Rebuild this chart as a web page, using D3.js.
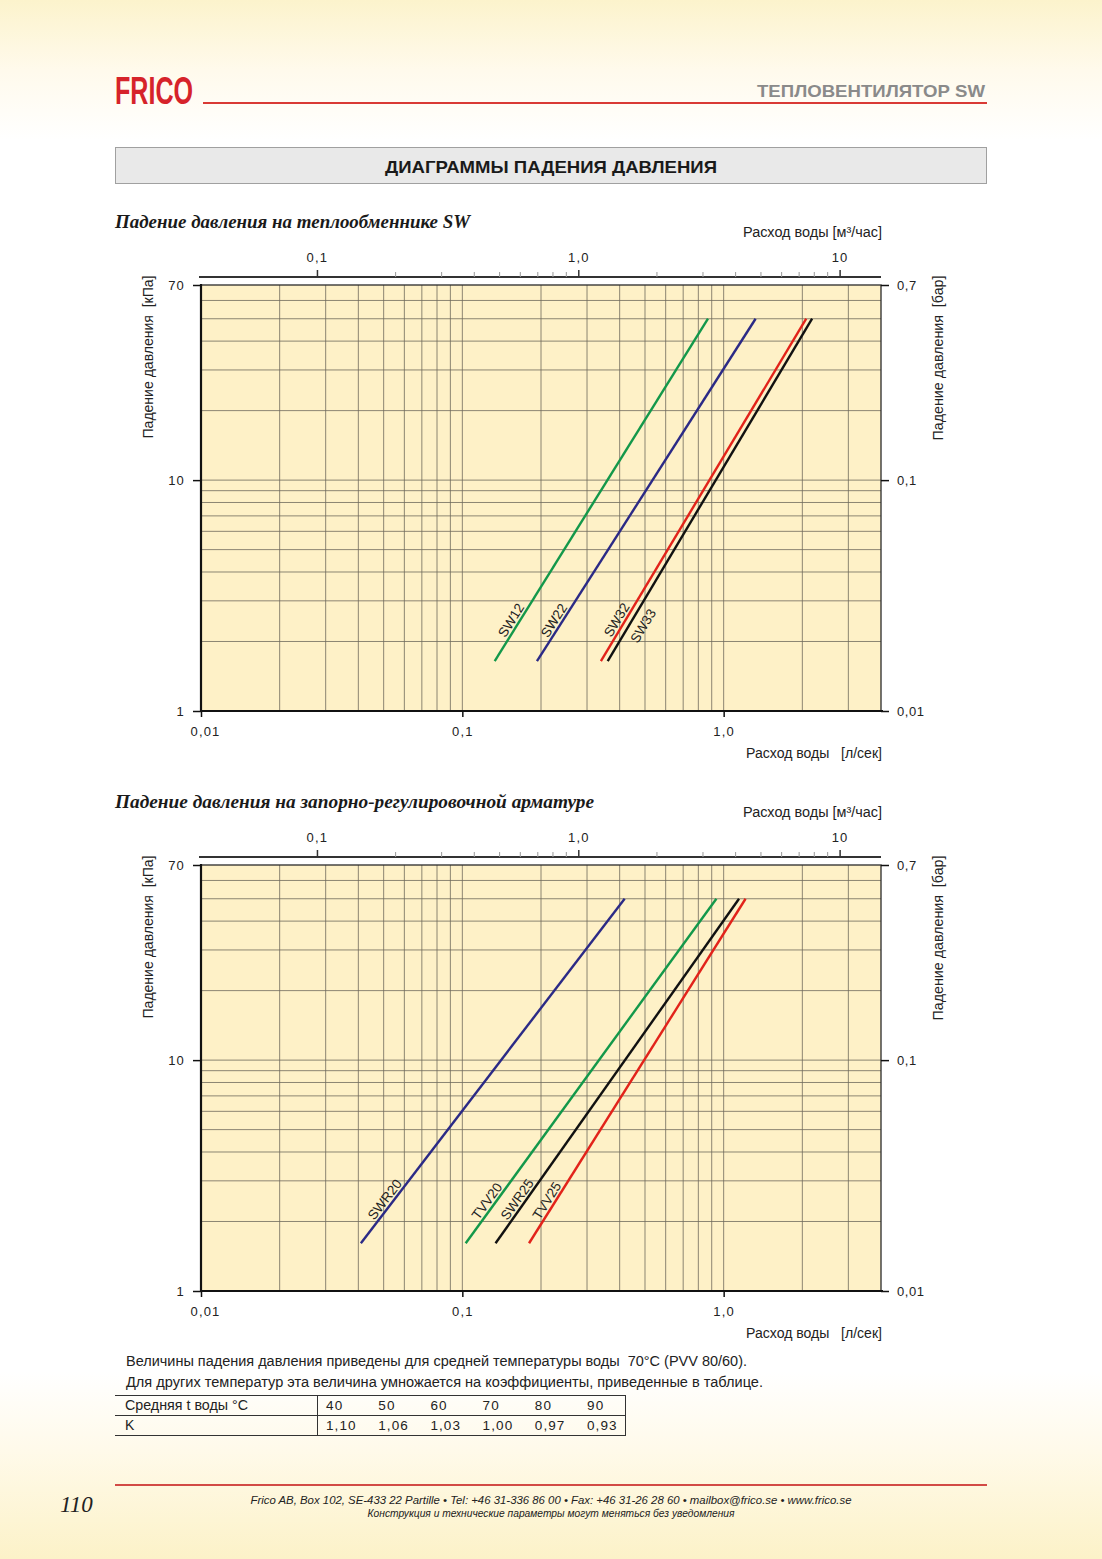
<!DOCTYPE html>
<html><head><meta charset="utf-8">
<script src="https://cdn.jsdelivr.net/npm/d3@7/dist/d3.min.js"></script>
<style>
html,body{margin:0;padding:0;background:#fff;}
svg{display:block;}
</style></head>
<body>
<script>
// ---------- DATA ----------
const chart1Title = "Падение давления на теплообменнике SW";
const chart1Series = ["SW12", "SW22", "SW32", "SW33"];
const chart1FlowStart = [0.133, 0.193, 0.339, 0.360];   // л/сек at lowest pressure
const chart1FlowEnd   = [0.871, 1.325, 2.07, 2.18];     // л/сек at highest pressure
const chart1PressStart = [1.645, 1.645, 1.645, 1.645];  // кПа
const chart1PressEnd   = [50, 50, 50, 50];              // кПа

const chart2Title = "Падение давления на запорно-регулировочной арматуре";
const chart2Series = ["SWR20", "TVV20", "SWR25", "TVV25"];
const chart2FlowStart = [0.0409, 0.103, 0.134, 0.180];
const chart2FlowEnd   = [0.418, 0.938, 1.145, 1.213];
const chart2PressStart = [1.61, 1.61, 1.61, 1.61];
const chart2PressEnd   = [50, 50, 50, 50];

const flowTicksLs = [0.01, 0.1, 1.0];
const flowTickLabelsLs = ["0,01", "0,1", "1,0"];
const flowGridLs = [0.01,0.02,0.03,0.04,0.05,0.06,0.07,0.08,0.09,0.1,0.2,0.3,0.4,0.5,0.6,0.7,0.8,0.9,1,2,3];
const flowTicksM3h = [0.1, 1, 10];
const flowTickLabelsM3h = ["0,1", "1,0", "10"];
const flowMinorM3h = [0.2,0.3,0.4,0.5,0.6,0.7,0.8,0.9,2,3,4,5,6,7,8,9];
const pressTicksKpa = [1, 10, 70];
const pressTickLabelsKpa = ["1", "10", "70"];
const pressTickLabelsBar = ["0,01", "0,1", "0,7"];
const pressGridKpa = [2,3,4,5,6,7,8,9,10,20,30,40,50,60];

const tempValues = [40, 50, 60, 70, 80, 90];
const kValues = [1.10, 1.06, 1.03, 1.00, 0.97, 0.93];

// ---------- STYLE / LAYOUT ----------
const W = 1102, H = 1559;
const seriesColors1 = ["#13984a", "#2b2a86", "#e2231a", "#111111"];
const seriesColors2 = ["#2b2a86", "#13984a", "#111111", "#e2231a"];
const labelPlace1 = [{a:25,p:3},{a:25,p:3},{a:25,p:3},{a:30,p:-17}];
const labelPlace2 = [{a:26,p:3},{a:26,p:3},{a:25,p:3},{a:25,p:3}];
const sans = "'Liberation Sans', Arial, Helvetica, sans-serif";
const serif = "'Liberation Serif', 'Times New Roman', serif";
const fmtComma = v => d3.format(".2f")(v).replace(".", ",");

const svg = d3.select("body").append("svg").attr("width", W).attr("height", H);
const defs = svg.append("defs");
const bg = defs.append("linearGradient").attr("id","bg").attr("x1",0).attr("y1",0).attr("x2",0).attr("y2",1);
[[0,"#fcf3cc"],[0.045,"#fffaec"],[0.09,"#ffffff"],[0.88,"#ffffff"],[0.93,"#fffaea"],[1,"#fcf2c8"]]
  .forEach(([o,c]) => bg.append("stop").attr("offset",o).attr("stop-color",c));
svg.append("rect").attr("width",W).attr("height",H).attr("fill","url(#bg)");

// ---------- HEADER ----------
svg.append("text").attr("x",115).attr("y",104).attr("font-family","'Liberation Sans Narrow', 'Liberation Sans', sans-serif")
  .attr("font-weight","bold").attr("font-size",38).attr("fill","#d6232a")
  .attr("textLength",78).attr("lengthAdjust","spacingAndGlyphs").text("FRICO");
svg.append("line").attr("x1",203).attr("x2",987).attr("y1",103).attr("y2",103)
  .attr("stroke","#d93a35").attr("stroke-width",2);
svg.append("text").attr("x",985).attr("y",97).attr("text-anchor","end").attr("font-family",sans)
  .attr("font-weight","bold").attr("font-size",17).attr("fill","#8a8a8a")
  .attr("textLength",228).attr("lengthAdjust","spacingAndGlyphs").text("ТЕПЛОВЕНТИЛЯТОР SW");

svg.append("rect").attr("x",115.5).attr("y",147.5).attr("width",871).attr("height",36)
  .attr("fill","#e9e9e9").attr("stroke","#a0a0a0").attr("stroke-width",1);
svg.append("text").attr("x",551).attr("y",173).attr("text-anchor","middle").attr("font-family",sans)
  .attr("font-weight","bold").attr("font-size",17).attr("fill","#1a1a1a")
  .attr("textLength",332).attr("lengthAdjust","spacingAndGlyphs").text("ДИАГРАММЫ ПАДЕНИЯ ДАВЛЕНИЯ");

// ---------- CHART ----------
function drawChart(dy, title, titleLen, names, fStart, fEnd, pStart, pEnd, colors, place) {
  const g = svg.append("g").attr("transform", `translate(0,${dy})`);
  const L = 201, R = 881, T = 285, B = 711;
  const x = d3.scaleLog().domain([0.01, 4]).range([L, R]);
  const xTop = d3.scaleLog().domain([0.01*3.6, 4*3.6]).range([L, R]);
  const y = d3.scaleLog().domain([1, 70]).range([B, T]);

  g.append("text").attr("x",115).attr("y",228).attr("font-family",serif).attr("font-style","italic")
    .attr("font-weight","bold").attr("font-size",18).attr("fill","#1a1a1a")
    .attr("textLength",titleLen).attr("lengthAdjust","spacingAndGlyphs").text(title);

  g.append("text").attr("x",882).attr("y",237).attr("text-anchor","end").attr("font-family",sans)
    .attr("font-size",14).attr("fill","#222").attr("textLength",139).attr("lengthAdjust","spacingAndGlyphs")
    .text("Расход воды [м³/час]");

  // plot background
  g.append("rect").attr("x",L).attr("y",T).attr("width",R-L).attr("height",B-T).attr("fill","#fef1c7");

  // grid
  g.append("g").selectAll("line").data(flowGridLs).join("line")
    .attr("x1",d=>x(d)).attr("x2",d=>x(d)).attr("y1",T).attr("y2",B)
    .attr("stroke","#6f6a5c").attr("stroke-width",0.8);
  g.append("g").selectAll("line").data(pressGridKpa).join("line")
    .attr("y1",d=>y(d)).attr("y2",d=>y(d)).attr("x1",L).attr("x2",R)
    .attr("stroke","#6f6a5c").attr("stroke-width",0.8);

  // frame
  g.append("rect").attr("x",L).attr("y",T).attr("width",R-L).attr("height",B-T)
    .attr("fill","none").attr("stroke","#2a2a2a").attr("stroke-width",1.3);
  g.append("line").attr("x1",L).attr("x2",L).attr("y1",T-1).attr("y2",B+1).attr("stroke","#111").attr("stroke-width",2.2);
  g.append("line").attr("x1",L-1).attr("x2",R+2).attr("y1",B).attr("y2",B).attr("stroke","#111").attr("stroke-width",2.2);

  // bottom axis (л/сек)
  const axB = d3.axisBottom(x).tickValues(flowTicksLs).tickSize(6)
    .tickFormat((d,i)=>flowTickLabelsLs[i]);
  const gB = g.append("g").attr("transform",`translate(0,${B})`).call(axB);
  gB.select(".domain").remove();
  gB.selectAll("line").attr("stroke","#111").attr("stroke-width",1.5);
  gB.selectAll("text").attr("dy","1.25em").attr("font-family",sans).attr("font-size",13)
    .attr("letter-spacing",1.2).attr("fill","#222");
  gB.selectAll(".tick").filter(d=>d===0.01).select("text").attr("dx",4);

  g.append("text").attr("x",882).attr("y",758).attr("text-anchor","end").attr("font-family",sans)
    .attr("font-size",14).attr("fill","#222").attr("xml:space","preserve")
    .attr("textLength",136).attr("lengthAdjust","spacingAndGlyphs").text("Расход воды   [л/сек]");

  // top axis (м³/час)
  const TA = 277;
  g.append("line").attr("x1",L-2).attr("x2",R).attr("y1",TA).attr("y2",TA).attr("stroke","#333").attr("stroke-width",2);
  g.append("g").selectAll("line").data(flowMinorM3h).join("line")
    .attr("x1",d=>xTop(d)).attr("x2",d=>xTop(d)).attr("y1",TA).attr("y2",TA-5)
    .attr("stroke","#999").attr("stroke-width",1);
  const axT = d3.axisTop(xTop).tickValues(flowTicksM3h).tickSize(7)
    .tickFormat((d,i)=>flowTickLabelsM3h[i]);
  const gT = g.append("g").attr("transform",`translate(0,${TA})`).call(axT);
  gT.select(".domain").remove();
  gT.selectAll("line").attr("stroke","#333").attr("stroke-width",1.5);
  gT.selectAll("text").attr("dy","-0.35em").attr("font-family",sans).attr("font-size",13)
    .attr("letter-spacing",1.2).attr("fill","#222");

  // left axis (кПа)
  const axL = d3.axisLeft(y).tickValues(pressTicksKpa).tickSize(8).tickPadding(8)
    .tickFormat((d,i)=>pressTickLabelsKpa[i]);
  const gL = g.append("g").attr("transform",`translate(${L},0)`).call(axL);
  gL.select(".domain").remove();
  gL.selectAll("line").attr("stroke","#111").attr("stroke-width",1.5);
  gL.selectAll("text").attr("font-family",sans).attr("font-size",13).attr("letter-spacing",1.2).attr("fill","#222");

  // right axis (бар)
  const axR = d3.axisRight(y).tickValues(pressTicksKpa).tickSize(8).tickPadding(8)
    .tickFormat((d,i)=>pressTickLabelsBar[i]);
  const gR = g.append("g").attr("transform",`translate(${R},0)`).call(axR);
  gR.select(".domain").remove();
  gR.selectAll("line").attr("stroke","#111").attr("stroke-width",1.5);
  gR.selectAll("text").attr("font-family",sans).attr("font-size",13).attr("letter-spacing",0.6).attr("fill","#222");

  g.append("text").attr("transform","translate(153,357) rotate(-90)").attr("text-anchor","middle")
    .attr("font-family",sans).attr("font-size",14).attr("fill","#222").attr("xml:space","preserve")
    .attr("textLength",163).attr("lengthAdjust","spacingAndGlyphs")
    .text("Падение давления  [кПа]");
  g.append("text").attr("transform","translate(943,358) rotate(-90)").attr("text-anchor","middle")
    .attr("font-family",sans).attr("font-size",14).attr("fill","#222").attr("xml:space","preserve")
    .attr("textLength",165).attr("lengthAdjust","spacingAndGlyphs")
    .text("Падение давления  [бар]");

  // series lines
  const lineGen = d3.line().x(d=>x(d[0])).y(d=>y(d[1]));
  names.forEach((name,i)=>{
    const pts = [[fStart[i], pStart[i]], [fEnd[i], pEnd[i]]];
    g.append("path").attr("d", lineGen(pts)).attr("fill","none")
      .attr("stroke", colors[i]).attr("stroke-width", 2.4);
    const x0 = x(fStart[i]), y0 = y(pStart[i]), x1 = x(fEnd[i]), y1 = y(pEnd[i]);
    const len = Math.hypot(x1-x0, y1-y0);
    const ux = (x1-x0)/len, uy = (y1-y0)/len;
    const nx = uy, ny = -ux;
    const ang = Math.atan2(uy, ux) * 180/Math.PI;
    const px = x0 + ux*place[i].a + nx*place[i].p;
    const py = y0 + uy*place[i].a + ny*place[i].p;
    g.append("text").attr("transform",`translate(${px},${py}) rotate(${ang})`)
      .attr("font-family",sans).attr("font-size",13.5).attr("fill","#222").text(name);
  });
}

drawChart(0, chart1Title, 355, chart1Series, chart1FlowStart, chart1FlowEnd, chart1PressStart, chart1PressEnd, seriesColors1, labelPlace1);
drawChart(580, chart2Title, 479, chart2Series, chart2FlowStart, chart2FlowEnd, chart2PressStart, chart2PressEnd, seriesColors2, labelPlace2);

// ---------- NOTE & TABLE ----------
svg.append("text").attr("x",126).attr("y",1366).attr("font-family",sans).attr("font-size",14).attr("fill","#222")
  .attr("xml:space","preserve").attr("textLength",621).attr("lengthAdjust","spacingAndGlyphs")
  .text("Величины падения давления приведены для средней температуры воды  70°C (PVV 80/60).");
svg.append("text").attr("x",126).attr("y",1387).attr("font-family",sans).attr("font-size",14).attr("fill","#222")
  .attr("textLength",637).attr("lengthAdjust","spacingAndGlyphs")
  .text("Для других температур эта величина умножается на коэффициенты, приведенные в таблице.");

const tb = svg.append("g");
[1395,1415,1435].forEach(yy => tb.append("line").attr("x1",115).attr("x2",625).attr("y1",yy+0.5).attr("y2",yy+0.5)
  .attr("stroke","#333").attr("stroke-width",1));
[317,625].forEach(xx => tb.append("line").attr("x1",xx+0.5).attr("x2",xx+0.5).attr("y1",1395).attr("y2",1436)
  .attr("stroke","#333").attr("stroke-width",1));
tb.append("text").attr("x",125).attr("y",1410).attr("font-family",sans).attr("font-size",14).attr("fill","#222")
  .attr("textLength",123).attr("lengthAdjust","spacingAndGlyphs").text("Средняя t воды °C");
tb.append("text").attr("x",125).attr("y",1430).attr("font-family",sans).attr("font-size",14).attr("fill","#222").text("K");
const colX = d3.scalePoint().domain(tempValues).range([326, 587]);
tb.selectAll("text.t").data(tempValues).join("text").attr("class","t")
  .attr("x",d=>colX(d)).attr("y",1410).attr("font-family",sans).attr("font-size",13.5).attr("letter-spacing",1.2)
  .attr("fill","#222").text(d=>d);
tb.selectAll("text.k").data(kValues).join("text").attr("class","k")
  .attr("x",(d,i)=>colX(tempValues[i])).attr("y",1430).attr("font-family",sans).attr("font-size",13.5).attr("letter-spacing",1.1)
  .attr("fill","#222").text(d=>fmtComma(d));

// ---------- FOOTER ----------
svg.append("line").attr("x1",115).attr("x2",987).attr("y1",1485).attr("y2",1485).attr("stroke","#d24a45").attr("stroke-width",2);
svg.append("text").attr("x",60).attr("y",1512).attr("font-family",serif).attr("font-style","italic")
  .attr("font-size",23).attr("fill","#222").text("110");
svg.append("text").attr("x",551).attr("y",1504).attr("text-anchor","middle").attr("font-family",sans).attr("font-style","italic")
  .attr("font-size",10.5).attr("fill","#222").attr("textLength",601).attr("lengthAdjust","spacingAndGlyphs")
  .text("Frico AB, Box 102, SE-433 22 Partille • Tel: +46 31-336 86 00 • Fax: +46 31-26 28 60 • mailbox@frico.se • www.frico.se");
svg.append("text").attr("x",551).attr("y",1517).attr("text-anchor","middle").attr("font-family",sans).attr("font-style","italic")
  .attr("font-size",10.5).attr("fill","#222").attr("textLength",367).attr("lengthAdjust","spacingAndGlyphs")
  .text("Конструкция и технические параметры могут меняться без уведомления");
</script>
</body></html>
